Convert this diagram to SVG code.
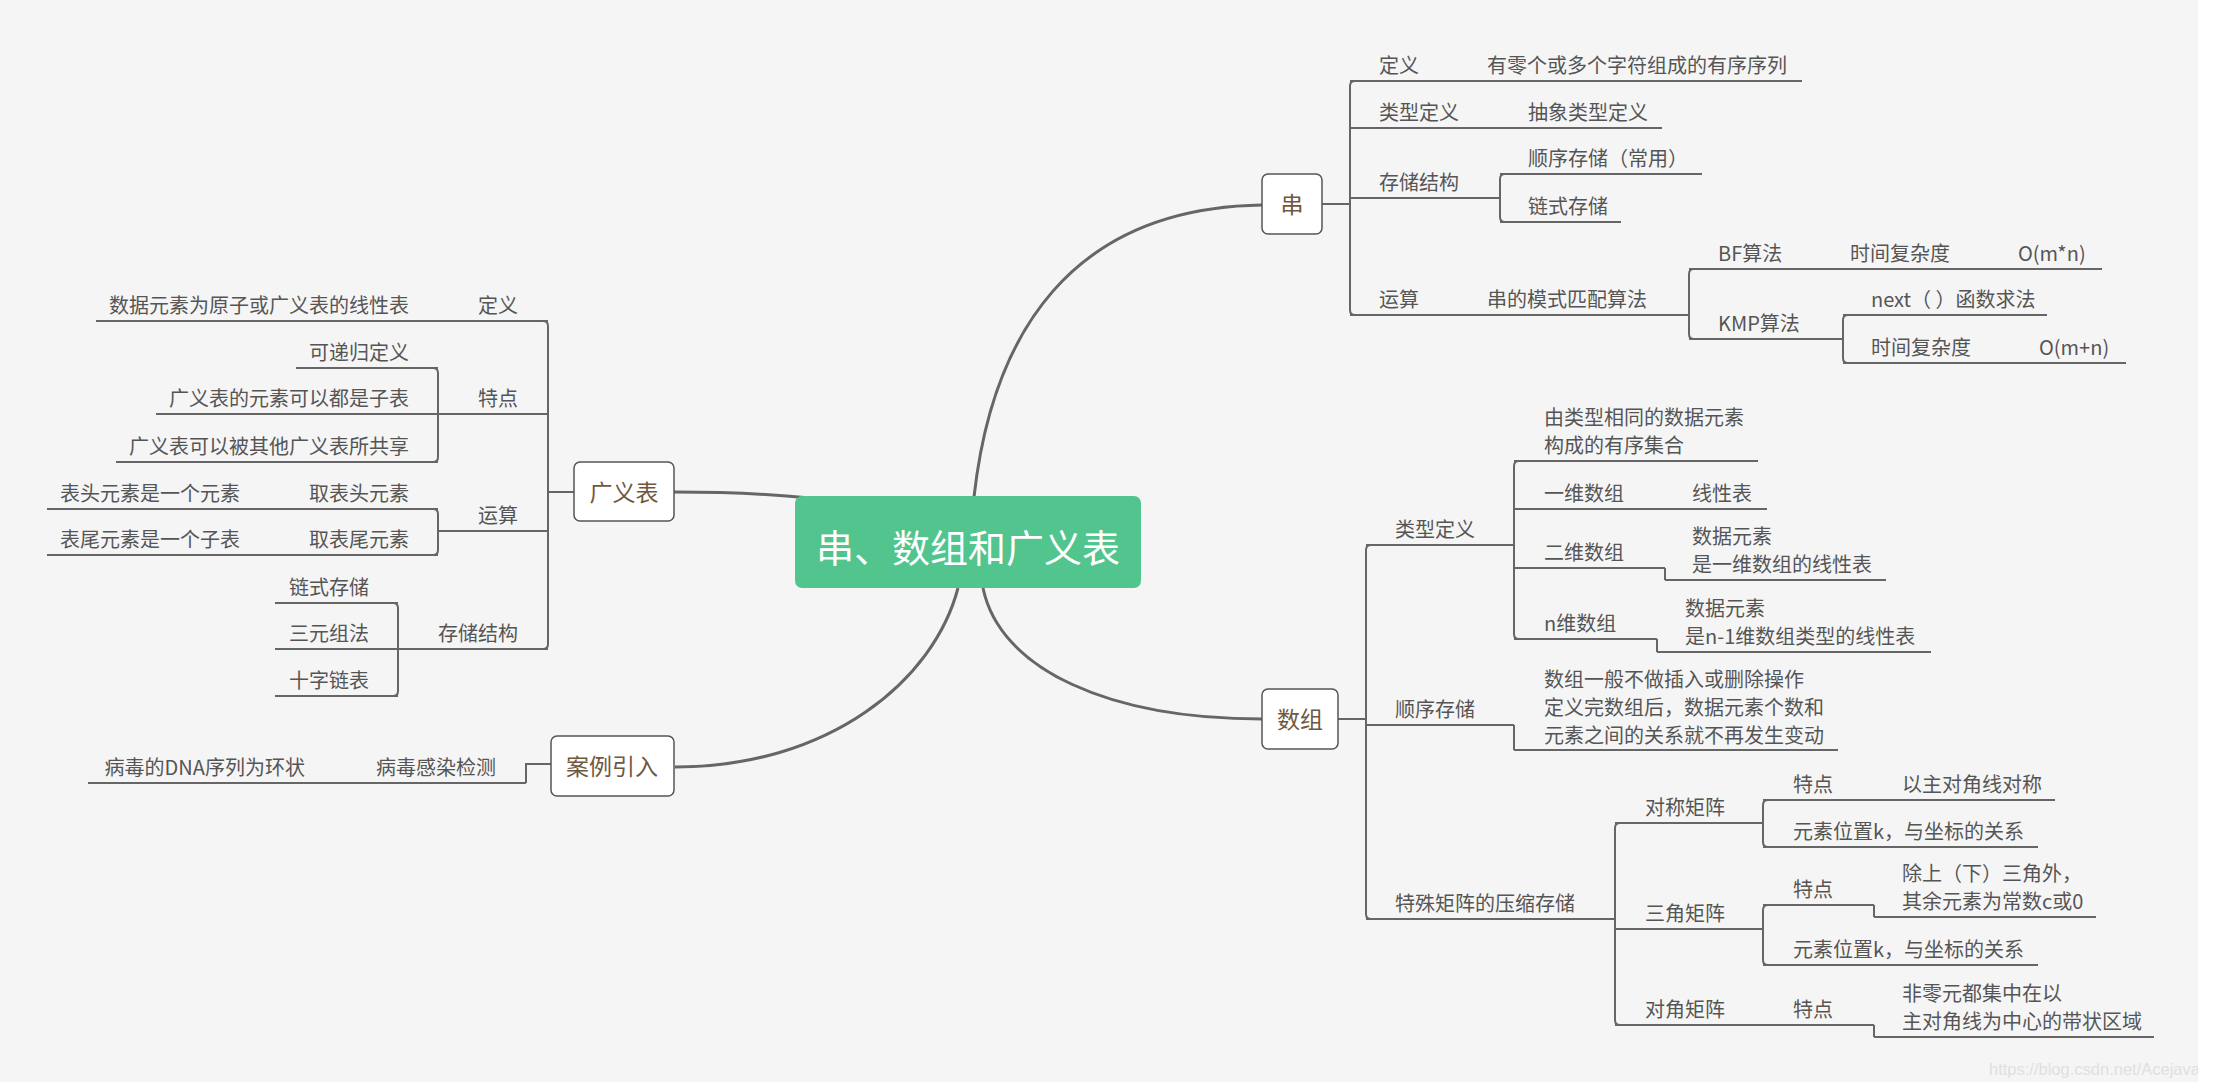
<svg xmlns="http://www.w3.org/2000/svg" width="2213" height="1088" viewBox="0 0 2213 1088">
<style>
.t{font-family:"Noto Sans CJK SC","Liberation Sans",sans-serif;font-size:20px;fill:#555}
.e{text-anchor:end}
.l1{font-family:"Noto Sans CJK SC","Liberation Sans",sans-serif;font-size:23px;fill:#70583f;text-anchor:middle}
.ul{stroke:#666;stroke-width:2;fill:none}
.cn{stroke:#666;stroke-width:2;fill:none}
.cv{stroke:#666;stroke-width:3;fill:none}
.box{fill:#fff;stroke:#555;stroke-width:1.5}
</style>
<rect x="0" y="0" width="2213" height="1088" fill="#ffffff"/>
<rect x="0" y="0" width="2198" height="1082" fill="#f5f5f5"/>
<text x="1989" y="1075" font-family="Liberation Sans, sans-serif" font-size="16.5" fill="#e0e0e0">https://blog.csdn.net/Acejava0</text>
<rect x="2198" y="0" width="15" height="1088" fill="#ffffff"/>
<rect x="0" y="1082" width="2213" height="6" fill="#ffffff"/>

<g id="connectors">
<path class="cv" d="M 974 497 C 992 335 1070 208 1262 205"/>
<path class="cv" d="M 983 588 C 1000 670 1110 719 1262 719"/>
<path class="cv" d="M 958 588 C 934 680 830 767 675 767"/>
<path class="cv" d="M 674 492 C 730 492 770 494 810 498"/>
<!-- 串 -->
<path class="cn" d="M 1322 204 H 1350"/>
<path class="cn" d="M 1355 81 Q 1350 81 1350 86 V 310 Q 1350 315 1355 315"/>
<path class="cn" d="M 1505 174 Q 1500 174 1500 179 V 217 Q 1500 222 1505 222"/>
<path class="cn" d="M 1694 269 Q 1689 269 1689 274 V 334 Q 1689 339 1694 339"/>
<path class="cn" d="M 1848 315 Q 1843 315 1843 320 V 358 Q 1843 363 1848 363"/>
<!-- 数组 -->
<path class="cn" d="M 1338 719 H 1366"/>
<path class="cn" d="M 1371 545 Q 1366 545 1366 550 V 914 Q 1366 919 1371 919"/>
<path class="cn" d="M 1519 461 Q 1514 461 1514 466 V 634 Q 1514 639 1519 639"/>
<path class="cn" d="M 1665 568 V 580"/>
<path class="cn" d="M 1657 639 V 652"/>
<path class="cn" d="M 1514 725 V 750"/>
<path class="cn" d="M 1620 823 Q 1615 823 1615 828 V 1020 Q 1615 1025 1620 1025"/>
<path class="cn" d="M 1768 800 Q 1763 800 1763 805 V 842 Q 1763 847 1768 847"/>
<path class="cn" d="M 1768 905 Q 1763 905 1763 910 V 960 Q 1763 965 1768 965"/>
<path class="cn" d="M 1874 905 V 917"/>
<path class="cn" d="M 1874 1025 V 1037"/>
<!-- 广义表 -->
<path class="cn" d="M 574 492 H 548"/>
<path class="cn" d="M 543 321 Q 548 321 548 326 V 644 Q 548 649 543 649"/>
<path class="cn" d="M 433 368 Q 438 368 438 373 V 457 Q 438 462 433 462"/>
<path class="cn" d="M 433 509 Q 438 509 438 514 V 550 Q 438 555 433 555"/>
<path class="cn" d="M 393 603 Q 398 603 398 608 V 691 Q 398 696 393 696"/>
<!-- 案例引入 -->
<path class="cn" d="M 551 764 H 526 V 783"/>
</g>

<g id="n-center">
<rect x="795" y="496" width="346" height="92" rx="7" fill="#52c48e"/>
<text x="968" y="562" font-family="Noto Sans CJK SC, Liberation Sans, sans-serif" font-size="38" fill="#ffffff" text-anchor="middle">串、数组和广义表</text>
</g>

<!-- 串 branch -->
<g id="n-chuan"><rect class="box" x="1262" y="174" width="60" height="60" rx="6"/><text class="l1" x="1292" y="213">串</text></g>
<g id="n-c-def"><path class="ul" d="M 1350 81 H 1430"/><text class="t" x="1379" y="73">定义</text></g>
<g id="n-c-def-1"><path class="ul" d="M 1430 81 H 1802"/><text class="t" x="1487" y="73">有零个或多个字符组成的有序序列</text></g>
<g id="n-c-type"><path class="ul" d="M 1350 128 H 1468"/><text class="t" x="1379" y="120">类型定义</text></g>
<g id="n-c-type-1"><path class="ul" d="M 1468 128 H 1662"/><text class="t" x="1528" y="120">抽象类型定义</text></g>
<g id="n-c-store"><path class="ul" d="M 1350 198 H 1500"/><text class="t" x="1379" y="190">存储结构</text></g>
<g id="n-c-store-1"><path class="ul" d="M 1500 174 H 1702"/><text class="t" x="1528" y="166">顺序存储（常用）</text></g>
<g id="n-c-store-2"><path class="ul" d="M 1500 222 H 1621"/><text class="t" x="1528" y="214">链式存储</text></g>
<g id="n-c-op"><path class="ul" d="M 1350 315 H 1430"/><text class="t" x="1379" y="307">运算</text></g>
<g id="n-c-op-1"><path class="ul" d="M 1430 315 H 1689"/><text class="t" x="1487" y="307">串的模式匹配算法</text></g>
<g id="n-bf"><path class="ul" d="M 1689 269 H 1793"/><text class="t" x="1718" y="261">BF算法</text></g>
<g id="n-bf-1"><path class="ul" d="M 1793 269 H 1962"/><text class="t" x="1850" y="261">时间复杂度</text></g>
<g id="n-bf-2"><path class="ul" d="M 1962 269 H 2102"/><text class="t" x="2018" y="261">O(m*n)</text></g>
<g id="n-kmp"><path class="ul" d="M 1689 339 H 1843"/><text class="t" x="1718" y="331">KMP算法</text></g>
<g id="n-next"><path class="ul" d="M 1843 315 H 2047"/><text class="t" x="1871" y="307">next（ ）函数求法</text></g>
<g id="n-kmp-t"><path class="ul" d="M 1843 363 H 1985"/><text class="t" x="1871" y="355">时间复杂度</text></g>
<g id="n-kmp-t-1"><path class="ul" d="M 1985 363 H 2126"/><text class="t" x="2039" y="355">O(m+n)</text></g>

<!-- 数组 branch -->
<g id="n-shuzu"><rect class="box" x="1262" y="689" width="76" height="60" rx="6"/><text class="l1" x="1300" y="728">数组</text></g>
<g id="n-s-type"><path class="ul" d="M 1366 545 H 1514"/><text class="t" x="1395" y="537">类型定义</text></g>
<g id="n-s-type-0"><path class="ul" d="M 1514 461 H 1758"/><text class="t" x="1544" y="425">由类型相同的数据元素</text><text class="t" x="1544" y="453">构成的有序集合</text></g>
<g id="n-s-1d"><path class="ul" d="M 1514 509 H 1640"/><text class="t" x="1544" y="501">一维数组</text></g>
<g id="n-s-1d-1"><path class="ul" d="M 1640 509 H 1767"/><text class="t" x="1692" y="501">线性表</text></g>
<g id="n-s-2d"><path class="ul" d="M 1514 568 H 1665"/><text class="t" x="1544" y="560">二维数组</text></g>
<g id="n-s-2d-1"><path class="ul" d="M 1665 580 H 1886"/><text class="t" x="1692" y="544">数据元素</text><text class="t" x="1692" y="572">是一维数组的线性表</text></g>
<g id="n-s-nd"><path class="ul" d="M 1514 639 H 1657"/><text class="t" x="1544" y="631">n维数组</text></g>
<g id="n-s-nd-1"><path class="ul" d="M 1657 652 H 1931"/><text class="t" x="1685" y="616">数据元素</text><text class="t" x="1685" y="644">是n-1维数组类型的线性表</text></g>
<g id="n-s-seq"><path class="ul" d="M 1366 725 H 1514"/><text class="t" x="1395" y="717">顺序存储</text></g>
<g id="n-s-seq-1"><path class="ul" d="M 1514 750 H 1838"/><text class="t" x="1544" y="687">数组一般不做插入或删除操作</text><text class="t" x="1544" y="715">定义完数组后，数据元素个数和</text><text class="t" x="1544" y="743">元素之间的关系就不再发生变动</text></g>
<g id="n-s-spec"><path class="ul" d="M 1366 919 H 1615"/><text class="t" x="1395" y="911">特殊矩阵的压缩存储</text></g>
<g id="n-sym"><path class="ul" d="M 1615 823 H 1763"/><text class="t" x="1645" y="815">对称矩阵</text></g>
<g id="n-sym-a"><path class="ul" d="M 1763 800 H 1850"/><text class="t" x="1793" y="792">特点</text></g>
<g id="n-sym-a-1"><path class="ul" d="M 1850 800 H 2055"/><text class="t" x="1902" y="792">以主对角线对称</text></g>
<g id="n-sym-b"><path class="ul" d="M 1763 847 H 2038"/><text class="t" x="1793" y="839">元素位置k，与坐标的关系</text></g>
<g id="n-tri"><path class="ul" d="M 1615 929 H 1763"/><text class="t" x="1645" y="921">三角矩阵</text></g>
<g id="n-tri-a"><path class="ul" d="M 1763 905 H 1874"/><text class="t" x="1793" y="897">特点</text></g>
<g id="n-tri-a-1"><path class="ul" d="M 1874 917 H 2096"/><text class="t" x="1902" y="881">除上（下）三角外，</text><text class="t" x="1902" y="909">其余元素为常数c或0</text></g>
<g id="n-tri-b"><path class="ul" d="M 1763 965 H 2038"/><text class="t" x="1793" y="957">元素位置k，与坐标的关系</text></g>
<g id="n-diag"><path class="ul" d="M 1615 1025 H 1735"/><text class="t" x="1645" y="1017">对角矩阵</text></g>
<g id="n-diag-a"><path class="ul" d="M 1735 1025 H 1874"/><text class="t" x="1793" y="1017">特点</text></g>
<g id="n-diag-a-1"><path class="ul" d="M 1874 1037 H 2154"/><text class="t" x="1902" y="1001">非零元都集中在以</text><text class="t" x="1902" y="1029">主对角线为中心的带状区域</text></g>

<!-- 广义表 branch -->
<g id="n-guang"><rect class="box" x="574" y="462" width="100" height="59" rx="6"/><text class="l1" x="624" y="501">广义表</text></g>
<g id="n-g-def"><path class="ul" d="M 466 321 H 548"/><text class="t e" x="518" y="313">定义</text></g>
<g id="n-g-def-1"><path class="ul" d="M 96 321 H 466"/><text class="t e" x="409" y="313">数据元素为原子或广义表的线性表</text></g>
<g id="n-g-feat"><path class="ul" d="M 438 414 H 548"/><text class="t e" x="518" y="406">特点</text></g>
<g id="n-g-feat-1"><path class="ul" d="M 296 368 H 438"/><text class="t e" x="409" y="360">可递归定义</text></g>
<g id="n-g-feat-2"><path class="ul" d="M 156 414 H 438"/><text class="t e" x="409" y="406">广义表的元素可以都是子表</text></g>
<g id="n-g-feat-3"><path class="ul" d="M 116 462 H 438"/><text class="t e" x="409" y="454">广义表可以被其他广义表所共享</text></g>
<g id="n-g-op"><path class="ul" d="M 438 531 H 548"/><text class="t e" x="518" y="523">运算</text></g>
<g id="n-g-op-1"><path class="ul" d="M 296 509 H 438"/><text class="t e" x="409" y="501">取表头元素</text></g>
<g id="n-g-op-1-1"><path class="ul" d="M 47 509 H 296"/><text class="t e" x="240" y="501">表头元素是一个元素</text></g>
<g id="n-g-op-2"><path class="ul" d="M 296 555 H 438"/><text class="t e" x="409" y="547">取表尾元素</text></g>
<g id="n-g-op-2-1"><path class="ul" d="M 47 555 H 296"/><text class="t e" x="240" y="547">表尾元素是一个子表</text></g>
<g id="n-g-store"><path class="ul" d="M 398 649 H 548"/><text class="t e" x="518" y="641">存储结构</text></g>
<g id="n-g-store-1"><path class="ul" d="M 275 603 H 398"/><text class="t e" x="369" y="595">链式存储</text></g>
<g id="n-g-store-2"><path class="ul" d="M 275 649 H 398"/><text class="t e" x="369" y="641">三元组法</text></g>
<g id="n-g-store-3"><path class="ul" d="M 275 696 H 398"/><text class="t e" x="369" y="688">十字链表</text></g>

<!-- 案例引入 branch -->
<g id="n-case"><rect class="box" x="551" y="736" width="123" height="60" rx="6"/><text class="l1" x="612" y="775">案例引入</text></g>
<g id="n-case-1"><path class="ul" d="M 363 783 H 526"/><text class="t e" x="496" y="775">病毒感染检测</text></g>
<g id="n-case-1-1"><path class="ul" d="M 88 783 H 363"/><text class="t e" x="305" y="775">病毒的DNA序列为环状</text></g>
</svg>
